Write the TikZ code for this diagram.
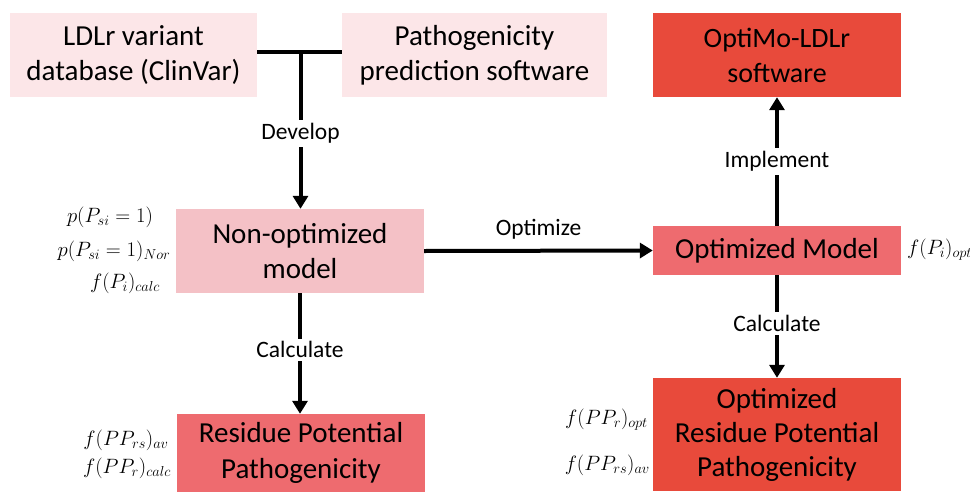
\documentclass[tikz,border=0pt]{standalone}
\usepackage{fontspec}
\setmainfont{Carlito}
\usetikzlibrary{arrows.meta}
\definecolor{lightpink}{HTML}{FCE6E8}
\definecolor{midpink}{HTML}{F4C1C6}
\definecolor{salmon}{HTML}{EE6B6F}
\definecolor{redbox}{HTML}{E84A3B}
\tikzset{
  box/.style={draw=none, align=center, inner sep=0pt, font=\fontsize{29}{35}\selectfont, text=black},
  conn/.style={line width=4pt, -{Triangle[length=13pt,width=15pt]}},
  plain/.style={line width=4pt},
  lbl/.style={fill=white, inner sep=3pt, font=\fontsize{23.5}{26}\selectfont},
  mathlbl/.style={inner sep=0pt, font=\fontsize{20.5}{24}\selectfont}
}
\begin{document}
\begin{tikzpicture}[x=1pt,y=-1pt]
\useasboundingbox (0,0) rectangle (970,493);
\node[box, fill=lightpink, minimum width=247pt, minimum height=84pt] (A) at (133.5,55) {LDLr variant\\database (ClinVar)};
\node[box, fill=lightpink, minimum width=265pt, minimum height=84pt] (B) at (474.5,55) {Pathogenicity\\prediction software};
\node[box, fill=redbox, minimum width=248pt, minimum height=84pt, font=\fontsize{28}{35}\selectfont] (C) at (777,55) {OptiMo-LDLr\\software};
\node[box, fill=midpink, minimum width=248pt, minimum height=84pt] (N) at (300,251) {Non-optimized\\model};
\node[box, fill=salmon, minimum width=248pt, minimum height=49pt] (O) at (777,250.5) {Optimized Model};
\node[box, fill=salmon, minimum width=248pt, minimum height=78pt, font=\fontsize{29}{36}\selectfont] (R) at (301,453) {Residue Potential\\Pathogenicity};
\node[box, fill=redbox, minimum width=248pt, minimum height=113pt, font=\fontsize{29}{34}\selectfont] (P) at (777,434.5) {Optimized\\Residue Potential\\Pathogenicity};
% T junction
\coordinate (T) at (300.5,52);
\draw[plain] (A.east |- T) -- (B.west |- T);
\draw[conn] (T) -- (T |- N.north) node[lbl, pos=0.52] (dev) {Develop};
% Optimize
\draw[conn] (N.east) -- (O.west) node[pos=0.5, above=9pt, inner sep=0pt, font=\fontsize{23.5}{26}\selectfont] (opt) {Optimize};
% Implement
\draw[conn] (O.north) -- (O.north |- C.south) node[lbl, pos=0.5] (imp) {Implement};
% Calculate right
\draw[conn] (O.south) -- (O.south |- P.north) node[lbl, pos=0.47] (calr) {Calculate};
% Calculate left
\draw[conn] (N.south) -- (N.south |- R.north) node[lbl, pos=0.47] (call) {Calculate};
% math labels
\node[mathlbl] (m1) at (110,217) {$p(P_{si}=1)$};
\node[mathlbl] (m2) at (114,251) {$p(P_{si}=1)_{Nor}$};
\node[mathlbl] (m3) at (125,283) {$f(P_i)_{calc}$};
\node[mathlbl, anchor=west] (m4) at (907,250) {$f(P_i)_{opt}$};
\node[mathlbl] (m5) at (126,440) {$f(PP_{rs})_{av}$};
\node[mathlbl] (m6) at (127,468) {$f(PP_r)_{calc}$};
\node[mathlbl, anchor=east] (m7) at (648,420) {$f(PP_r)_{opt}$};
\node[mathlbl, anchor=east] (m8) at (650,465) {$f(PP_{rs})_{av}$};
\end{tikzpicture}
\end{document}
